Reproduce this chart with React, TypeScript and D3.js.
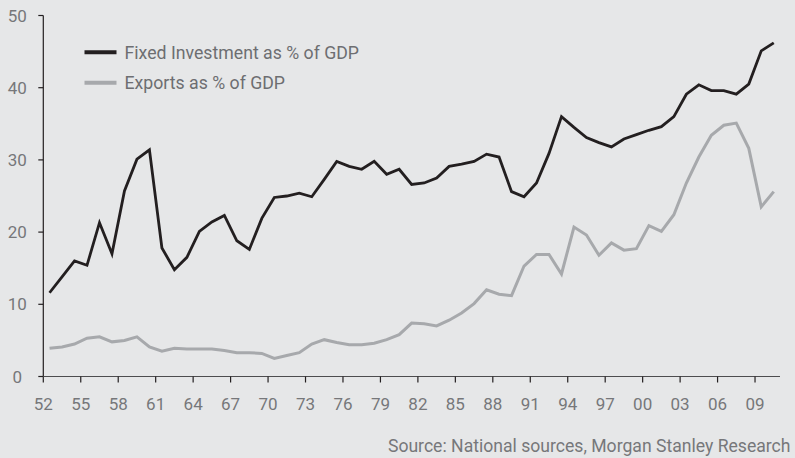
import React, { useEffect, useRef } from "react";
import * as d3 from "d3";

const years = d3.range(1952, 2011);

const fixedInvestment = [
  11.6, 13.8, 16.0, 15.4, 21.3, 17.0, 25.7, 30.1, 31.4, 17.8, 14.8, 16.5, 20.1,
  21.4, 22.3, 18.8, 17.6, 21.9, 24.8, 25.0, 25.4, 24.9, 27.3, 29.8, 29.1, 28.7,
  29.8, 28.0, 28.7, 26.6, 26.8, 27.5, 29.1, 29.4, 29.8, 30.8, 30.4, 25.6, 24.9,
  26.8, 30.9, 36.0, 34.5, 33.1, 32.4, 31.8, 32.9, 33.5, 34.1, 34.6, 36.0, 39.1,
  40.4, 39.6, 39.6, 39.1, 40.5, 45.1, 46.2,
];

const exportsShare = [
  3.9, 4.1, 4.5, 5.3, 5.5, 4.8, 5.0, 5.5, 4.1, 3.5, 3.9, 3.8, 3.8, 3.8, 3.6, 3.3,
  3.3, 3.2, 2.5, 2.9, 3.3, 4.5, 5.1, 4.7, 4.4, 4.4, 4.6, 5.1, 5.8, 7.4, 7.3, 7.0,
  7.8, 8.8, 10.1, 12.0, 11.4, 11.2, 15.3, 16.9, 16.9, 14.2, 20.7, 19.6, 16.8,
  18.5, 17.5, 17.7, 20.9, 20.1, 22.4, 26.8, 30.4, 33.4, 34.8, 35.1, 31.6, 23.5,
  25.6,
];

const yTicks = [0, 10, 20, 30, 40, 50];
const xTickYears = d3.range(1952, 2011, 3);

const seriesNames = ["Fixed Investment as % of GDP", "Exports as % of GDP"];
const sourceNote = "Source: National sources, Morgan Stanley Research";

const W = 795;
const H = 458;
const FONT = "Roboto, 'DejaVu Sans', sans-serif";

const App: React.FC = () => {
  const svgRef = useRef<SVGSVGElement | null>(null);

  useEffect(() => {
    document.body.style.margin = "0";
    document.body.style.background = "#e6e7e8";

    const svg = d3.select(svgRef.current);
    svg.selectAll("*").remove();

    const left = 43.3;
    const right = 780;
    const top = 15.5;
    const bottom = 376.5;

    const x = d3
      .scaleBand<number>()
      .domain(years)
      .range([left, right])
      .padding(0);
    const y = d3.scaleLinear().domain([0, 50]).range([bottom, top]);

    svg
      .append("rect")
      .attr("width", W)
      .attr("height", H)
      .attr("fill", "#e6e7e8");

    // y axis
    svg
      .append("line")
      .attr("x1", left)
      .attr("x2", left)
      .attr("y1", top)
      .attr("y2", bottom)
      .attr("stroke", "#231f20")
      .attr("stroke-width", 1.2);

    const yt = svg.append("g");
    yTicks.forEach((t) => {
      yt.append("line")
        .attr("x1", left - 5)
        .attr("x2", left)
        .attr("y1", y(t))
        .attr("y2", y(t))
        .attr("stroke", "#231f20")
        .attr("stroke-width", 1.2);
      yt.append("text")
        .attr("x", 17.3)
        .attr("y", y(t))
        .attr("dy", "0.36em")
        .attr("text-anchor", "middle")
        .attr("font-family", FONT)
        .attr("font-size", 17)
        .attr("fill", "#76777a")
        .text(t);
    });

    // x axis
    svg
      .append("line")
      .attr("x1", left)
      .attr("x2", right)
      .attr("y1", bottom)
      .attr("y2", bottom)
      .attr("stroke", "#4d4d4f")
      .attr("stroke-width", 1.2);

    const xt = svg.append("g");
    xTickYears.forEach((yr) => {
      const px = x(yr) as number;
      xt.append("line")
        .attr("x1", px)
        .attr("x2", px)
        .attr("y1", bottom)
        .attr("y2", bottom + 6)
        .attr("stroke", "#231f20")
        .attr("stroke-width", 1.2);
      xt.append("text")
        .attr("x", px)
        .attr("y", 410)
        .attr("text-anchor", "middle")
        .attr("font-family", FONT)
        .attr("font-size", 17)
        .attr("fill", "#76777a")
        .text(String(yr % 100).padStart(2, "0"));
    });

    const cx = (i: number) => (x(years[i]) as number) + x.bandwidth() / 2;

    const line = d3
      .line<number>()
      .x((_, i) => cx(i))
      .y((d) => y(d));

    svg
      .append("path")
      .datum(exportsShare)
      .attr("d", line)
      .attr("fill", "none")
      .attr("stroke", "#a7a9ac")
      .attr("stroke-width", 3)
      .attr("stroke-linejoin", "miter");

    svg
      .append("path")
      .datum(fixedInvestment)
      .attr("d", line)
      .attr("fill", "none")
      .attr("stroke", "#231f20")
      .attr("stroke-width", 2.8)
      .attr("stroke-linejoin", "miter");

    // legend
    const colors = ["#231f20", "#a7a9ac"];
    seriesNames.forEach((name, i) => {
      const ly = 52.3 + i * 30.5;
      svg
        .append("line")
        .attr("x1", 84.5)
        .attr("x2", 116.5)
        .attr("y1", ly)
        .attr("y2", ly)
        .attr("stroke", colors[i])
        .attr("stroke-width", 4);
      svg
        .append("text")
        .attr("x", 124.5)
        .attr("y", ly)
        .attr("dy", "0.36em")
        .attr("font-family", FONT)
        .attr("font-size", 17.7)
        .attr("fill", "#6d6e71")
        .text(name);
    });

    svg
      .append("text")
      .attr("x", 790.5)
      .attr("y", 452.3)
      .attr("text-anchor", "end")
      .attr("font-family", FONT)
      .attr("font-size", 17.6)
      .attr("fill", "#76777a")
      .text(sourceNote);
  }, []);

  return <svg ref={svgRef} width={W} height={H} style={{ display: "block" }} />;
};

export default App;
